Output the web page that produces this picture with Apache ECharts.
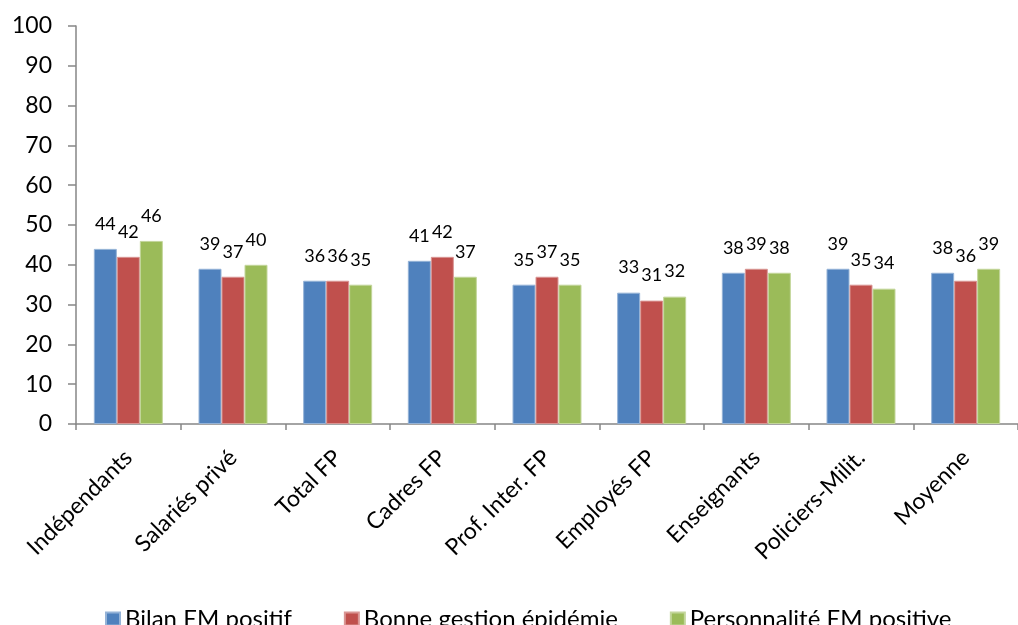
<!DOCTYPE html>
<html><head><meta charset="utf-8">
<script src="https://cdn.jsdelivr.net/npm/echarts@6/dist/echarts.min.js"></script>
<style>html,body{margin:0;padding:0;background:#fff}#c{width:1018px;height:625px}</style>
</head><body><div id="c"></div>
<script>
const categories = ['Indépendants','Salariés privé','Total FP','Cadres FP','Prof. Inter. FP','Employés FP','Enseignants','Policiers-Milit.','Moyenne'];
const bilanEM = [44,39,36,41,35,33,38,39,38];
const bonneGestion = [42,37,36,42,37,31,39,35,36];
const personnalite = [46,40,35,37,35,32,38,34,39];
const seriesNames = ['Bilan EM positif','Bonne gestion épidémie','Personnalité EM positive'];
const yTicks = {min:0,max:100,interval:10};

const FONT = 'Lato';
const colors = ['#4F81BD','#C0504D','#9BBB59'];
const borders = ['#95B3D7','#D99694','#C3D69B'];
function mk(name, data, i){
  return {name, type:'bar', data, barWidth:23, barGap:'0%',
    itemStyle:{color:colors[i], borderColor:borders[i], borderWidth:1},
    label:{show:true, position:'top', distance:16, color:'#000', fontSize:18, fontFamily:FONT}};
}
const chart = echarts.init(document.getElementById('c'), null, {renderer:'canvas'});
chart.setOption({
  animation:false,
  textStyle:{fontFamily:FONT},
  grid:{left:76, right:-8, top:26, bottom:201, containLabel:false},
  legend:{top:602, left:100, itemWidth:14, itemHeight:13, itemGap:52, icon:'rect',
    textStyle:{fontSize:24, color:'#000', fontFamily:FONT}, data:seriesNames},
  xAxis:{type:'category', data:categories,
    axisLine:{lineStyle:{color:'#868686', width:1.5}},
    axisTick:{show:true, alignWithLabel:false, length:6, lineStyle:{color:'#868686', width:1.5}},
    axisLabel:{rotate:45, interval:0, fontSize:23, color:'#000', fontFamily:FONT, margin:30}},
  yAxis:{type:'value', min:yTicks.min, max:yTicks.max, interval:yTicks.interval,
    splitLine:{show:false},
    axisLine:{show:true, lineStyle:{color:'#868686', width:1.5}},
    axisTick:{show:true, length:8, lineStyle:{color:'#868686', width:1.5}},
    axisLabel:{fontSize:23, color:'#000', fontFamily:FONT, margin:24}},
  series:[mk(seriesNames[0],bilanEM,0), mk(seriesNames[1],bonneGestion,1), mk(seriesNames[2],personnalite,2)]
});
</script></body></html>
